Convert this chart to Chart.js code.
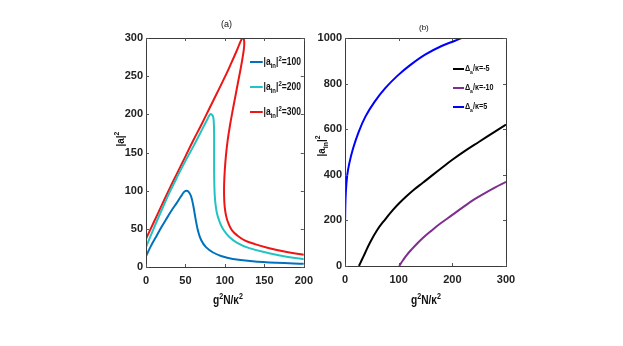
<!DOCTYPE html>
<html><head><meta charset="utf-8">
<script src="https://cdn.jsdelivr.net/npm/chart.js@4"></script>
<style>
html,body{margin:0;padding:0;background:#fff;}
#wrap{position:relative;width:623px;height:346px;overflow:hidden;font-family:'Liberation Sans Narrow','Liberation Sans',Arial,sans-serif;}
canvas{position:absolute;top:0;}
.t{position:absolute;white-space:nowrap;color:#111;line-height:1;}
.lg{position:absolute;white-space:nowrap;font-size:10px;font-weight:bold;color:#111;line-height:1;transform:scaleX(0.85);transform-origin:0 50%;}
.sw{display:inline-block;width:15px;height:2px;vertical-align:middle;margin-right:1px;}
sub,sup{font-size:70%;line-height:0;}
</style></head>
<body><div id="wrap">
<canvas id="ca" width="320" height="346" style="left:0;width:320px;height:346px"></canvas>
<canvas id="cb" width="323" height="346" style="left:300px;width:323px;height:346px"></canvas>
<div class="t" style="left:221px;top:20px;font-size:9px;">(a)</div>
<div class="t" style="left:419px;top:24px;font-size:8px;">(b)</div>
<div class="t" style="left:228px;top:300px;transform:translate(-50%,-50%) scaleX(0.85);font-size:12px;font-weight:bold;">g<sup>2</sup>N/κ<sup>2</sup></div>
<div class="t" style="left:426px;top:300px;transform:translate(-50%,-50%) scaleX(0.85);font-size:12px;font-weight:bold;">g<sup>2</sup>N/κ<sup>2</sup></div>
<div class="t" style="left:120px;top:139px;transform:translate(-50%,-50%) rotate(-90deg) scaleX(0.9);font-size:11px;font-weight:bold;">|a|<sup>2</sup></div>
<div class="t" style="left:321px;top:146px;transform:translate(-50%,-50%) rotate(-90deg) scaleX(0.9);font-size:11px;font-weight:bold;">|a<sub>in</sub>|<sup>2</sup></div>
<div class="lg" style="left:250px;top:57px;"><span class="sw" style="background:#0072BD"></span>|a<sub>in</sub>|<sup>2</sup>=100</div>
<div class="lg" style="left:250px;top:82px;"><span class="sw" style="background:#22C3C3"></span>|a<sub>in</sub>|<sup>2</sup>=200</div>
<div class="lg" style="left:250px;top:107px;"><span class="sw" style="background:#EE1515"></span>|a<sub>in</sub>|<sup>2</sup>=300</div>
<div class="lg" style="left:453px;top:64px;font-size:8.5px;"><span class="sw" style="background:#000;width:13px"></span>Δ<sub>a</sub>/κ=-5</div>
<div class="lg" style="left:453px;top:83px;font-size:8.5px;"><span class="sw" style="background:#7E2F8E;width:13px"></span>Δ<sub>a</sub>/κ=-10</div>
<div class="lg" style="left:453px;top:102px;font-size:8.5px;"><span class="sw" style="background:#0000FF;width:13px"></span>Δ<sub>a</sub>/κ=5</div>
</div>
<script>
// ---- data (a) ----
const seriesA100 = [[0,14],[6,27],[13,40],[20,53],[27,65],[33,75],[39,84],[44,92],[48,98],[51,100],[54,98.5],[57,93],[60,80],[63,62],[66,47],[70,35],[76,26],[85,19],[95,14.5],[110,10.5],[135,7.5],[165,5.5],[200,4.2]];
const seriesA200 = [[0,26],[10,51],[20,75],[30,98],[40,119],[50,139],[60,158],[68,174],[74,186],[78,194],[81,199.5],[83,200],[85,197],[86,188],[86.3,170],[86.3,150],[86.3,130],[86.5,112],[87,96],[88,83],[90,70],[93,60],[98,49],[105,40],[115,32],[130,25],[156,18],[178,13.5],[200,10.3]];
const seriesA300 = [[0,37],[10,59],[20,81],[30,103],[40,124],[50,145],[60,166],[70,186],[80,207],[90,228],[100,249],[108,267],[114,281],[118,291],[121,298],[123,300],[124.3,297],[124.3,288],[122.5,275],[120,260],[117,244],[113.5,225],[110,206],[106.5,186],[103.5,166],[101.3,146],[99.8,126],[99,108],[99,92],[99.7,79],[101.5,67],[104.5,57],[109,48],[116,41],[125,35],[138,30],[155,25],[177,20],[200,16]];
const ticksAX = [0,50,100,150,200];
const ticksAY = [0,50,100,150,200,250,300];
// ---- data (b) ----
const seriesBm5 = [[26,0],[31,25],[37,55],[46,100],[60,158],[75,205],[89,245],[100,273],[115,307],[130,338],[145,365],[160,393],[180,430],[200,466],[225,507],[250,545],[275,583],[300,620]];
const seriesBm10 = [[101,0],[108,25],[115,48],[125,75],[135,100],[146,125],[160,153],[177,185],[200,224],[220,258],[240,291],[260,319],[280,345],[300,369]];
const seriesBp5 = [[0,0],[0,150],[0.5,250],[1.5,320],[4,395],[8,450],[15,515],[25,585],[38,655],[55,720],[75,780],[98,835],[122,882],[150,928],[180,965],[205,988],[217,1000],[230,1012]];
const ticksBX = [0,100,200,300];
const ticksBY = [0,200,400,600,800,1000];

const toPts = a => a.map(p => ({x:p[0], y:p[1]}));
const FONT = "'Liberation Sans Narrow','Liberation Sans',Arial,sans-serif";

const framePlugin = {
  id:'frame',
  afterDatasetsDraw(chart){
    const {ctx, chartArea:a, scales} = chart;
    ctx.save();
    ctx.strokeStyle = '#3a3a3a';
    ctx.lineWidth = 1;
    ctx.strokeRect(Math.round(a.left)+0.5, Math.round(a.top)+0.5, Math.round(a.right-a.left), Math.round(a.bottom-a.top));
    ctx.strokeStyle = '#555';
    const L = 3;
    scales.x.ticks.forEach(t => {
      const px = Math.round(scales.x.getPixelForValue(t.value))+0.5;
      ctx.beginPath(); ctx.moveTo(px, a.bottom); ctx.lineTo(px, a.bottom-L);
      ctx.moveTo(px, a.top); ctx.lineTo(px, a.top+L); ctx.stroke();
    });
    scales.y.ticks.forEach(t => {
      const py = Math.round(scales.y.getPixelForValue(t.value))+0.5;
      ctx.beginPath(); ctx.moveTo(a.left, py); ctx.lineTo(a.left+L, py);
      ctx.moveTo(a.right, py); ctx.lineTo(a.right-L, py); ctx.stroke();
    });
    ctx.restore();
  }
};

function makeChart(id, datasets, xMax, yMax, xTicks, yTicks, yAxisW, padRight, xAxisH){
  return new Chart(document.getElementById(id), {
    type:'scatter',
    data:{datasets: datasets.map(d => ({
      data: toPts(d.data), showLine:true, borderColor:d.color, backgroundColor:d.color,
      borderWidth:2, pointRadius:0, tension:0.4, fill:false
    }))},
    options:{
      responsive:false, animation:false, devicePixelRatio:1,
      layout:{padding:{top:38, right:padRight, left:0, bottom:0}},
      plugins:{legend:{display:false}, tooltip:{enabled:false}},
      scales:{
        x:{type:'linear', min:0, max:xMax,
           afterBuildTicks: s => { s.ticks = xTicks.map(v => ({value:v})); },
           afterFit: s => { s.height = xAxisH; },
           grid:{display:false, drawTicks:false}, border:{display:false},
           ticks:{padding:7, color:'#222', font:{family:FONT, size:11, weight:'bold'}, maxRotation:0, callback: v => String(v)}},
        y:{type:'linear', min:0, max:yMax,
           afterBuildTicks: s => { s.ticks = yTicks.map(v => ({value:v})); },
           afterFit: s => { s.width = yAxisW; },
           grid:{display:false, drawTicks:false}, border:{display:false},
           ticks:{padding:3, color:'#222', font:{family:FONT, size:11, weight:'bold'}, callback: v => String(v)}}
      }
    },
    plugins:[framePlugin]
  });
}

makeChart('ca', [
  {data:seriesA100, color:'#0072BD'},
  {data:seriesA200, color:'#22C3C3'},
  {data:seriesA300, color:'#EE1515'}
], 200, 300, ticksAX, ticksAY, 146, 11, 79);

makeChart('cb', [
  {data:seriesBm5, color:'#000000'},
  {data:seriesBm10, color:'#7E2F8E'},
  {data:seriesBp5, color:'#0000FF'}
], 300, 1000, ticksBX, ticksBY, 45, 117, 80);
</script>
</body></html>
